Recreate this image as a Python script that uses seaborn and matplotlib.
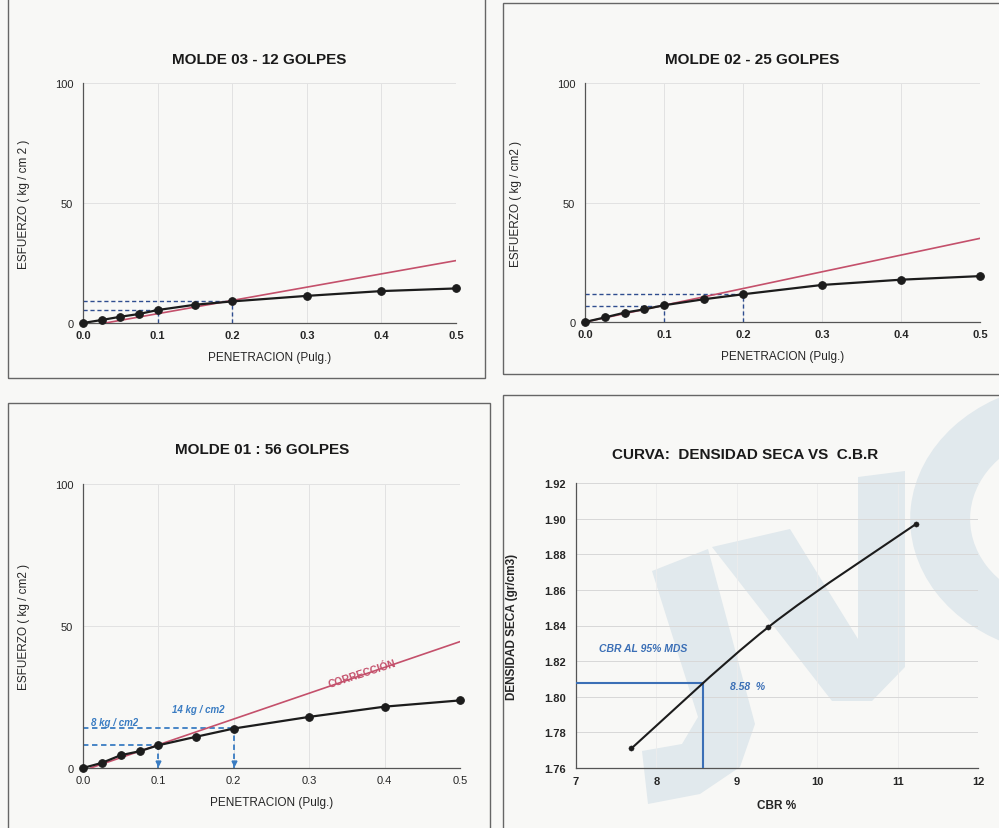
import numpy as np
import matplotlib
matplotlib.use("Agg")
import matplotlib.pyplot as plt
import seaborn as sns
from matplotlib.patches import Rectangle, PathPatch, Polygon, Wedge
from matplotlib.path import Path

sns.set_theme(style="white")
plt.rcParams['font.family'] = ['Liberation Sans', 'DejaVu Sans']

# --- Ensayo CBR: penetracion (pulg) vs esfuerzo (kg/cm2) ---
pen = [0.0, 0.025, 0.05, 0.075, 0.1, 0.15, 0.2, 0.3, 0.4, 0.5]
esf_m03 = [0.0, 1.25, 2.6, 3.75, 5.4, 7.6, 9.0, 11.3, 13.3, 14.4]
esf_m02 = [0.0, 1.9, 3.9, 5.3, 7.0, 9.5, 11.6, 15.5, 17.7, 19.2]
esf_m01 = [0.0, 1.8, 4.5, 5.9, 8.0, 11.0, 13.9, 18.0, 21.6, 23.8]

# rectas de correccion
corr_x_m03 = [0.03, 0.5]
corr_y_m03 = [0.0, 26.0]
corr_x_m02 = [0.0, 0.5]
corr_y_m02 = [0.0, 35.0]
corr_x_m01 = [0.01, 0.5]
corr_y_m01 = [0.0, 44.5]

# lecturas a 0.1" y 0.2"
lect_pen = [0.1, 0.2]
lect_m03 = [5.4, 9.0]
lect_m02 = [6.8, 11.6]
lect_m01 = [8.0, 14.0]

# --- Densidad seca vs CBR ---
cbr = [7.69, 9.39, 11.23]
dens = [1.771, 1.839, 1.897]
cbr_95 = 8.58
dens_95 = 1.808

W, H = 999, 829
fig = plt.figure(figsize=(W / 100, H / 100), dpi=100)
fig.patch.set_facecolor('#f8f8f6')


def fx(x):
    return x / W


def fy(y):
    return 1 - y / H


def px_axes(l, r, t, b):
    return fig.add_axes([fx(l), fy(b), (r - l) / W, (b - t) / H])


def px_box(l, r, t, b):
    rect = Rectangle((fx(l), fy(b)), (r - l) / W, (b - t) / H,
                     transform=fig.transFigure, fill=False,
                     edgecolor='#666666', lw=1.0, zorder=0)
    fig.patches.append(rect)
    return rect


box_tl = px_box(8, 485, -10, 379)
box_tr = px_box(503, 1010, 4, 375)
box_bl = px_box(8, 490, 404, 840)
box_br = px_box(503, 1010, 396, 840)

# faint company logo printed on the sheet behind the density chart
LOGO = '#e1e9ed'
logo_shapes = [
    # J
    [(652, 572), (708, 550), (755, 725), (740, 768), (700, 795), (648, 805),
     (642, 752), (682, 745), (698, 718)],
    # V
    [(712, 548), (790, 530), (858, 640), (858, 478), (905, 472), (905, 668),
     (872, 702), (832, 702)],
]
for pts in logo_shapes:
    poly = Polygon([(fx(x), fy(y)) for x, y in pts], closed=True, transform=fig.transFigure,
                   facecolor=LOGO, edgecolor='none', zorder=-1)
    poly.set_clip_path(box_br)
    fig.patches.append(poly)
arc = Wedge((fx(1075), fy(520)), 0.165, 100, 250, width=0.06, transform=fig.transFigure,
            facecolor=LOGO, edgecolor='none', zorder=-1)
arc.set_clip_path(box_br)
fig.patches.append(arc)

CURVE = '#1c1c1c'
RED = '#c4506b'
NAVY = '#2f4d8f'
BLUE = '#3a7cc2'


def style_axes(ax):
    ax.set_facecolor('none')
    for s in ('top', 'right'):
        ax.spines[s].set_visible(False)
    for s in ('left', 'bottom'):
        ax.spines[s].set_color('#555555')
        ax.spines[s].set_linewidth(0.9)


def esfuerzo_panel(ax, esf, cx, cy, lect, ylabel, dash_color, xbold, arrows=False):
    style_axes(ax)
    ax.set_xlim(0, 0.5)
    ax.set_ylim(0, 100)
    ax.set_xticks([0.0, 0.1, 0.2, 0.3, 0.4, 0.5])
    ax.set_yticks([0, 50, 100])
    ax.set_xticklabels([f"{t:.1f}" for t in ax.get_xticks()],
                       fontsize=8, fontweight='bold' if xbold else 'normal')
    ax.set_yticklabels(['0', '50', '100'], fontsize=8)
    ax.tick_params(axis='y', direction='out', length=4, width=0.8, color='#555555', pad=3)
    ax.tick_params(axis='x', direction='out', length=2, width=0.6, color='#777777', pad=3)
    ax.grid(True, color='#e2e2e2', lw=0.7)
    ax.set_axisbelow(True)

    sns.lineplot(x=cx, y=cy, ax=ax, color=RED, lw=1.2, zorder=3)

    lw = 1.3 if arrows else 1.0
    for p, v in zip(lect_pen, lect):
        ax.plot([0, p], [v, v], ls=(0, (3, 2)), color=dash_color, lw=lw, zorder=2)
        ax.plot([p, p], [0, v], ls=(0, (3, 2)), color=dash_color, lw=lw, zorder=2)
        if arrows:
            ax.plot([p], [1.6], marker='v', ms=3.5, color=dash_color, zorder=2)

    sns.lineplot(x=pen, y=esf, ax=ax, color=CURVE, lw=1.6, marker='o', markersize=5.5,
                 markeredgecolor=CURVE, markerfacecolor=CURVE, clip_on=False, zorder=4)
    ax.set_xlabel('PENETRACION (Pulg.)', fontsize=8.5)
    ax.set_ylabel(ylabel, fontsize=8.5)


# MOLDE 03
ax1 = px_axes(83, 456, 84, 324)
esfuerzo_panel(ax1, esf_m03, corr_x_m03, corr_y_m03, lect_m03,
               'ESFUERZO ( kg / cm 2 )', NAVY, True)
ax1.xaxis.set_label_coords(0.5, -28 / 240)
ax1.yaxis.set_label_coords(-53 / 373, 0.5)
fig.text(fx(259), fy(60), 'MOLDE 03 - 12 GOLPES', ha='center', va='center',
         fontsize=11, fontweight='bold', color='#1a1a1a')

# MOLDE 02
ax2 = px_axes(585, 980, 84, 323)
esfuerzo_panel(ax2, esf_m02, corr_x_m02, corr_y_m02, lect_m02,
               'ESFUERZO ( kg / cm2 )', NAVY, True)
ax2.xaxis.set_label_coords(0.5, -28 / 239)
ax2.yaxis.set_label_coords(-63 / 395, 0.5)
fig.text(fx(752), fy(60), 'MOLDE 02 - 25 GOLPES', ha='center', va='center',
         fontsize=11, fontweight='bold', color='#1a1a1a')

# MOLDE 01
ax3 = px_axes(83, 460, 485, 769)
esfuerzo_panel(ax3, esf_m01, corr_x_m01, corr_y_m01, lect_m01,
               'ESFUERZO ( kg / cm2 )', BLUE, False, arrows=True)
ax3.xaxis.set_label_coords(0.5, -28 / 284)
ax3.yaxis.set_label_coords(-53 / 377, 0.5)
fig.text(fx(262), fy(450), 'MOLDE 01 : 56 GOLPES', ha='center', va='center',
         fontsize=11, fontweight='bold', color='#1a1a1a')
ax3.text(0.042, lect_m01[1] + 0.4, f'{lect_m01[0]:.0f} kg / cm2', ha='center', va='bottom',
         fontsize=7, fontweight='bold', style='italic', color=BLUE)
ax3.text(0.1525, 20.8, f'{lect_m01[1]:.0f} kg / cm2', ha='center', va='center',
         fontsize=7, fontweight='bold', style='italic', color=BLUE)
ax3.text(0.37, 33.3, 'CORRECCIÓN', ha='center', va='center', rotation=18,
         fontsize=7.5, fontweight='bold', color=RED)

# CURVA: DENSIDAD SECA VS C.B.R
ax4 = px_axes(576, 978, 484, 769)
style_axes(ax4)
ax4.set_xlim(7, 12)
ax4.set_ylim(1.76, 1.92)
ax4.set_xticks([7, 8, 9, 10, 11, 12])
ax4.set_yticks(np.round(np.arange(1.76, 1.9201, 0.02), 2))
ax4.set_xticklabels([str(t) for t in [7, 8, 9, 10, 11, 12]], fontsize=8, fontweight='bold')
ax4.set_yticklabels([f"{t:.2f}" for t in ax4.get_yticks()], fontsize=8, fontweight='bold')
ax4.tick_params(axis='y', direction='out', length=4, width=0.8, color='#555555', pad=3)
ax4.tick_params(axis='x', direction='out', length=2, width=0.6, color='#777777', pad=4)
ax4.grid(True, axis='y', color='#d8d8d8', lw=0.7)
ax4.grid(True, axis='x', color='#ececec', lw=0.6)
ax4.set_axisbelow(True)

# smooth curve through the three points (Catmull-Rom as cubic Bezier)
P = np.column_stack([cbr, dens])
Pext = np.vstack([P[0], P, P[-1]])
verts = [tuple(P[0])]
codes = [Path.MOVETO]
for i in range(1, len(P)):
    p0, p1, p2, p3 = Pext[i - 1], Pext[i], Pext[i + 1], Pext[i + 2]
    c1 = p1 + (p2 - p0) / 6.0
    c2 = p2 - (p3 - p1) / 6.0
    verts += [tuple(c1), tuple(c2), tuple(p2)]
    codes += [Path.CURVE4] * 3
ax4.add_patch(PathPatch(Path(verts, codes), fill=False, edgecolor=CURVE, lw=1.5, zorder=4))
sns.scatterplot(x=cbr, y=dens, ax=ax4, color=CURVE, s=14, edgecolor=CURVE, zorder=5, legend=False)

ax4.plot([7, cbr_95], [dens_95, dens_95], color='#3b6fb6', lw=1.5, zorder=3)
ax4.plot([cbr_95, cbr_95], [1.76, dens_95], color='#3b6fb6', lw=1.5, zorder=3)
ax4.text(7.84, 1.8274, 'CBR AL 95% MDS', ha='center', va='center', fontsize=7.5,
         fontweight='bold', style='italic', color='#3b6fb6')
ax4.text(8.92, 1.806, f'{cbr_95:.2f}  %', ha='left', va='center', fontsize=7.5,
         fontweight='bold', style='italic', color='#3b6fb6')

ax4.set_xlabel('CBR %', fontsize=8.5, fontweight='bold')
ax4.set_ylabel('DENSIDAD SECA (gr/cm3)', fontsize=8.5, fontweight='bold')
ax4.xaxis.set_label_coords(0.5, -31 / 285)
ax4.yaxis.set_label_coords(-58 / 402, 0.5)
fig.text(fx(745), fy(455), 'CURVA:  DENSIDAD SECA VS  C.B.R', ha='center', va='center',
         fontsize=11, fontweight='bold', color='#1a1a1a')

fig.savefig('out.png', dpi=100, facecolor=fig.get_facecolor())
